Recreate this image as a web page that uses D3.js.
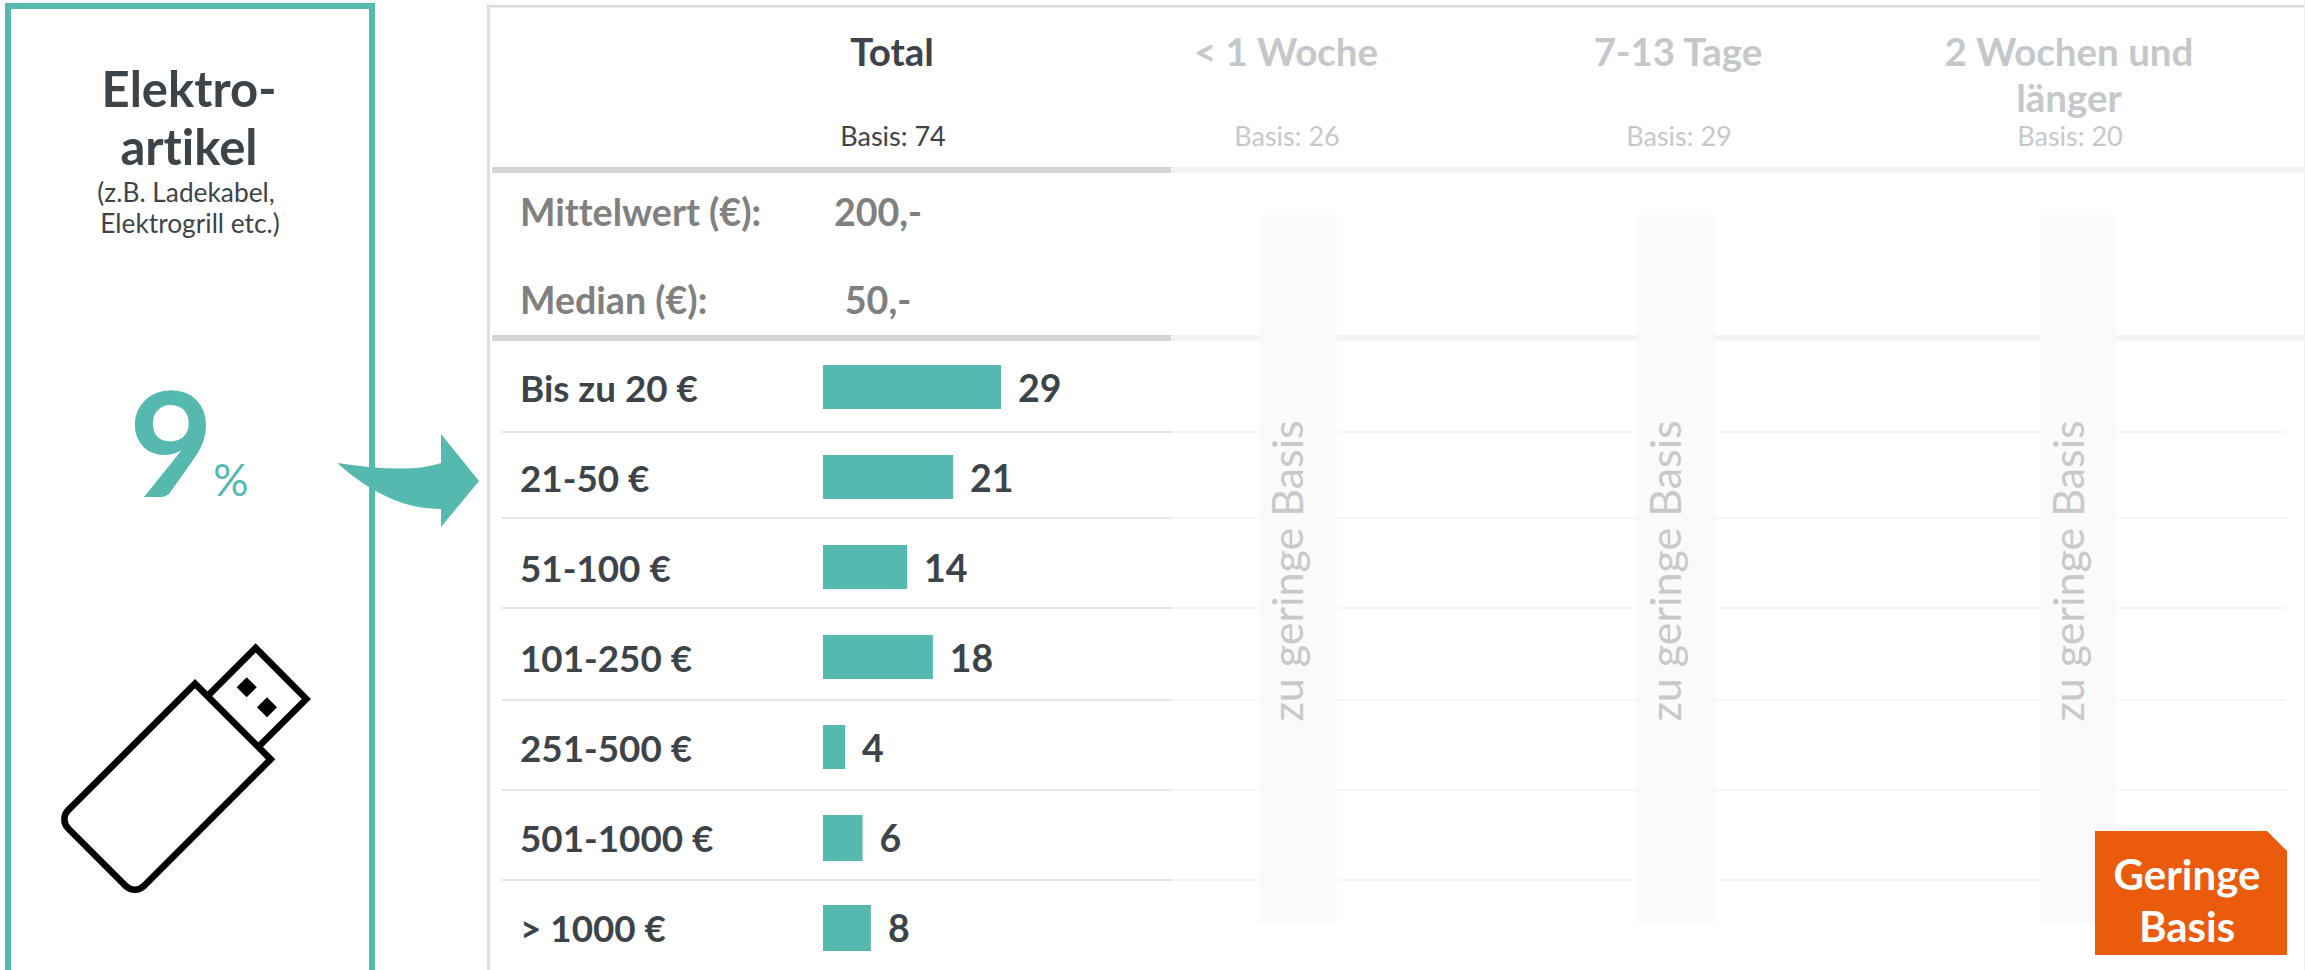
<!DOCTYPE html>
<html><head><meta charset="utf-8">
<script src="https://cdn.jsdelivr.net/npm/d3@7/dist/d3.min.js"></script>
<style>html,body{margin:0;padding:0;background:#fff;overflow:hidden}svg{display:block}text{font-family:Lato,sans-serif;font-variant-ligatures:none}</style>
</head><body><svg id="c" width="2305" height="970"></svg>
<script>
const categories=["Bis zu 20 €","21-50 €","51-100 €","101-250 €","251-500 €","501-1000 €","> 1000 €"];
const totalValues=[29,21.2,13.7,17.9,3.6,6.45,7.8];
const columns=["Total","< 1 Woche","7-13 Tage","2 Wochen und|länger"];
const bases=[74,26,29,20];
const statLabels=["Mittelwert (€):","Median (€):"];
const statValues=["200,-","50,-"];
const teal="#55b9b0",dark="#3d4449",lightText="#c5c8ca";

const svg=d3.select("#c");
const x=d3.scaleLinear().domain([0,29]).range([823,1001]);
const y=d3.scaleBand().domain(categories).range([365,995]).paddingInner(0);
const colX=d3.scaleOrdinal().domain(columns).range([892,1286,1678,2069]);
const bandX=[[1259,78],[1637,78],[2041,76]];
const ruleY=[431,517,607,699,789,879];

function rect(a,b,w,h,f){return svg.append("rect").attr("x",a).attr("y",b).attr("width",w).attr("height",h).attr("fill",f);}
function txt(s,a,b,size,fill,weight,anchor){return svg.append("text").text(s).attr("x",a).attr("y",b).attr("font-size",size).attr("fill",fill).attr("font-weight",weight||400).attr("text-anchor",anchor||"start");}

// left card
rect(8,6,364,967,"none").attr("stroke",teal).attr("stroke-width",6);
txt("Elektro-",189,107,49,dark,700,"middle");
txt("artikel",189,164.5,49,dark,700,"middle");
txt("(z.B. Ladekabel,",186,202,26.3,dark,400,"middle");
txt("Elektrogrill etc.)",190,233,26.3,dark,400,"middle");
txt("9",171,497,146,teal,700,"middle");
txt("%",231,496,44,teal,400,"middle");

// arrow
svg.append("path").attr("fill",teal).attr("d","M337,463 Q410,474 441,463 L441,434 L479,481 L441,527 L441,509 Q390,510 337,463 Z");

// icon
const ic=svg.append("g").attr("fill","none").attr("stroke","#000").attr("stroke-width",6.6).attr("stroke-linejoin","miter");
const p=d3.path();p.moveTo(195,683.7);p.lineTo(270.6,759.3);p.arcTo(134.8,895.1,59,819.3,13);p.arcTo(59,819.3,195,683.7,13);p.closePath();
ic.append("path").attr("d",p.toString());
ic.append("path").attr("d","M207.5,696.2 L255.7,648 L306.3,699 L258.3,747");
svg.append("path").attr("fill","#000").attr("d","M246.7,677.3 L256.7,687.3 L246.7,697.3 L236.7,687.3 Z M267,697.3 L277,707.3 L267,717.3 L257,707.3 Z");

// panel
rect(487,5,3,965,"#dcdee0");
rect(487,5,1818,2.5,"#d8dbde");
rect(2304,0,1,970,"#f0f1f2");

// rules
[167,335].forEach(v=>{rect(492,v,679,6,"#d3d6d9");rect(1171,v,1134,6,"#f2f3f4");});
ruleY.forEach(v=>{
  rect(502,v,669,2,"#e4e5e6");
  rect(1171,v,1115,2,"#f6f6f7");
});

// low-base bands
bandX.forEach(b=>rect(b[0],215,b[1],709,"#fafafa"));
bandX.forEach(b=>{
  const cx=b[0]+b[1]/2;
  svg.append("text").text("zu geringe Basis").attr("transform",`translate(${cx+5},571) rotate(-90)`).attr("text-anchor","middle").attr("font-size",43).attr("font-weight",400).attr("fill","#c8c9ca");
});

// headers
columns.forEach((c,i)=>{
  c.split("|").forEach((l,j)=>txt(l,colX(c),66+j*46,38.5,i?lightText:dark,700,"middle"));
  txt("Basis: "+bases[i],colX(c)+1,146,27,i?lightText:dark,400,"middle");
});

// stats
statLabels.forEach((l,i)=>{
  txt(l,520,226+i*88,37.6,"#808080",700);
  txt(statValues[i],878,226+i*88,37.6,"#808080",700,"middle");
});

// bars
categories.forEach((c,i)=>{
  rect(x(0),y(c),x(totalValues[i])-x(0),i<5?44:46,teal);
  txt(c,520,y(c)+37,36.8,dark,700);
  txt(d3.format(".0f")(totalValues[i]),x(totalValues[i])+17,y(c)+37,37.5,dark,700);
});

// badge
svg.append("path").attr("fill","#ea5b0c").attr("d","M2095,831 L2267,831 L2287,851 L2287,955 L2095,955 Z");
txt("Geringe",2187,890,42,"#fff",700,"middle");
txt("Basis",2187,942,42,"#fff",700,"middle");
</script></body></html>
